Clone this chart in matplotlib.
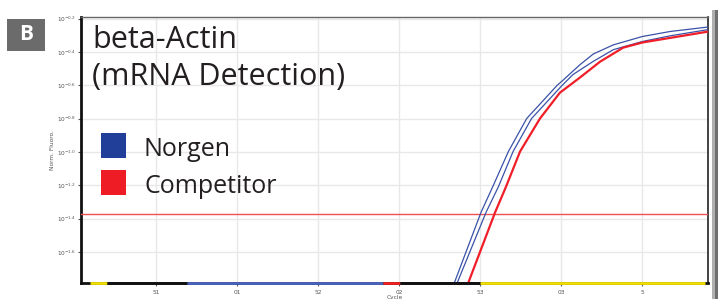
import numpy as np
import matplotlib
matplotlib.use("Agg")
import matplotlib.pyplot as plt
from matplotlib.patches import Rectangle

# ---- data (cycle, log10 normalised fluorescence) ----
norgen1_cycle = [22.8, 23.46, 25.06, 25.78, 26.75, 27.88, 29.75, 30.10, 31.17, 31.99, 33.23, 35.02, 36.73, 38.99, 39.5]
norgen1_log = [-1.95, -1.773, -1.362, -1.209, -0.997, -0.799, -0.601, -0.571, -0.476, -0.412, -0.357, -0.307, -0.277, -0.251, -0.248]

norgen2_cycle = [23.0, 23.64, 25.37, 26.13, 27.04, 28.18, 30.06, 30.74, 31.99, 33.23, 35.02, 36.73, 38.99, 39.5]
norgen2_log = [-1.95, -1.773, -1.362, -1.209, -0.997, -0.799, -0.601, -0.535, -0.456, -0.386, -0.337, -0.303, -0.267, -0.264]

comp_cycle = [23.7, 24.32, 25.93, 26.60, 27.47, 28.70, 29.93, 31.17, 32.41, 33.83, 35.02, 38.99, 39.5]
comp_log = [-1.95, -1.773, -1.362, -1.209, -0.997, -0.799, -0.644, -0.553, -0.458, -0.374, -0.343, -0.279, -0.276]

threshold_log = -1.372

# flat baseline traces along the bottom (start, end, colour)
baseline_start = [0.93, 1.98, 6.91, 19.01, 20.06, 25.0]
baseline_end = [1.98, 6.91, 19.01, 20.06, 25.0, 38.9]
baseline_color = ["#f2e000", "#111111", "#4a64c0", "#f02020", "#111111", "#f2e000"]

xtick_pos = [5, 10, 15, 20, 25, 30, 35]
xtick_labels = ["51", "01", "52", "02", "53", "03", "5"]
ytick_exp = [-0.2, -0.4, -0.6, -0.8, -1.0, -1.2, -1.4, -1.6]

legend_labels = ["Norgen", "Competitor"]
legend_colors = ["#213f99", "#ee1c25"]

title_lines = ["beta-Actin", "(mRNA Detection)"]

# ---- figure ----
W, H = 718, 299
fig = plt.figure(figsize=(W / 100, H / 100), dpi=100)
fig.patch.set_facecolor("white")

L, R, T, B = 81, 708, 17, 283
ax = fig.add_axes([L / W, (H - B) / H, (R - L) / W, (B - T) / H])
ax.set_yscale("log")
ylo, yhi = -1.786, -0.19
ax.set_xlim(0.37, 39.07)
ax.set_ylim(10 ** ylo, 10 ** yhi)

ax.set_xticks(xtick_pos)
ax.set_xticklabels(xtick_labels)
ax.set_yticks([10 ** e for e in ytick_exp])
ax.set_yticklabels([r"$10^{%s}$" % ("%.1f" % e).replace("-", "\u2212") for e in ytick_exp])
ax.yaxis.set_minor_locator(matplotlib.ticker.NullLocator())
ax.tick_params(axis="both", labelsize=4.2, colors="#555555", length=2, width=0.8, pad=1.5)
ax.tick_params(axis="x", length=2, pad=3)
ax.grid(True, color="#e8e8e8", lw=1.0)
ax.set_axisbelow(True)

ax.set_xlabel("Cycle", fontsize=4.2, color="#555555", labelpad=0)
ax.set_ylabel("Norm. Fluoro.", fontsize=4.2, color="#555555", labelpad=1)

for s in ["left", "bottom"]:
    ax.spines[s].set_linewidth(2.0)
    ax.spines[s].set_color("#111111")
ax.spines["top"].set_linewidth(1.0)
ax.spines["top"].set_color("#666666")
ax.spines["right"].set_linewidth(1.2)
ax.spines["right"].set_color("#222222")

# threshold
ax.axhline(10 ** threshold_log, color="#f05050", lw=1.0, zorder=3)

# amplification curves
ax.plot(norgen1_cycle, np.power(10.0, norgen1_log), color="#3a52a8", lw=0.9, zorder=4)
ax.plot(norgen2_cycle, np.power(10.0, norgen2_log), color="#3a52a8", lw=0.9, zorder=4)
ax.plot(comp_cycle, np.power(10.0, comp_log), color="#f01e28", lw=1.6, zorder=5)

# baseline traces
for s, e, c in zip(baseline_start, baseline_end, baseline_color):
    ax.plot([s, e], [10 ** ylo, 10 ** ylo], color=c, lw=2.0, solid_capstyle="butt",
            zorder=6, clip_on=False)

# title
for line, bl in zip(title_lines, [48, 85]):
    fig.text(92 / W, 1 - bl / H, line, fontsize=22, family="Open Sans",
             color="#231f20", va="baseline", ha="left")

# legend
leg_tops = [133, 170]
leg_base = [156, 193]
for lab, col, tp, bl in zip(legend_labels, legend_colors, leg_tops, leg_base):
    fig.patches.append(Rectangle((101 / W, 1 - (tp + 25) / H), 25 / W, 25 / H,
                                 transform=fig.transFigure, facecolor=col,
                                 edgecolor="none", zorder=10))
    fig.text(144 / W, 1 - bl / H, lab, fontsize=18, family="Open Sans",
             color="#231f20", va="baseline", ha="left", zorder=10)

# panel letter
fig.patches.append(Rectangle((7 / W, 1 - 51 / H), 38 / W, 32 / H,
                             transform=fig.transFigure, facecolor="#6b6b6b",
                             edgecolor="none"))
fig.text(26 / W, 1 - 35 / H, "B", fontsize=15, fontweight="bold", family="Open Sans",
         color="white", ha="center", va="center")

# right edge gray bar
fig.patches.append(Rectangle((712 / W, 0), 3 / W, 1 - 10 / H, transform=fig.transFigure,
                             facecolor="#b0b0b0", edgecolor="none"))
fig.patches.append(Rectangle((715 / W, 0), 3 / W, 1 - 10 / H, transform=fig.transFigure,
                             facecolor="#707070", edgecolor="none"))

fig.savefig("out.png", dpi=100)
